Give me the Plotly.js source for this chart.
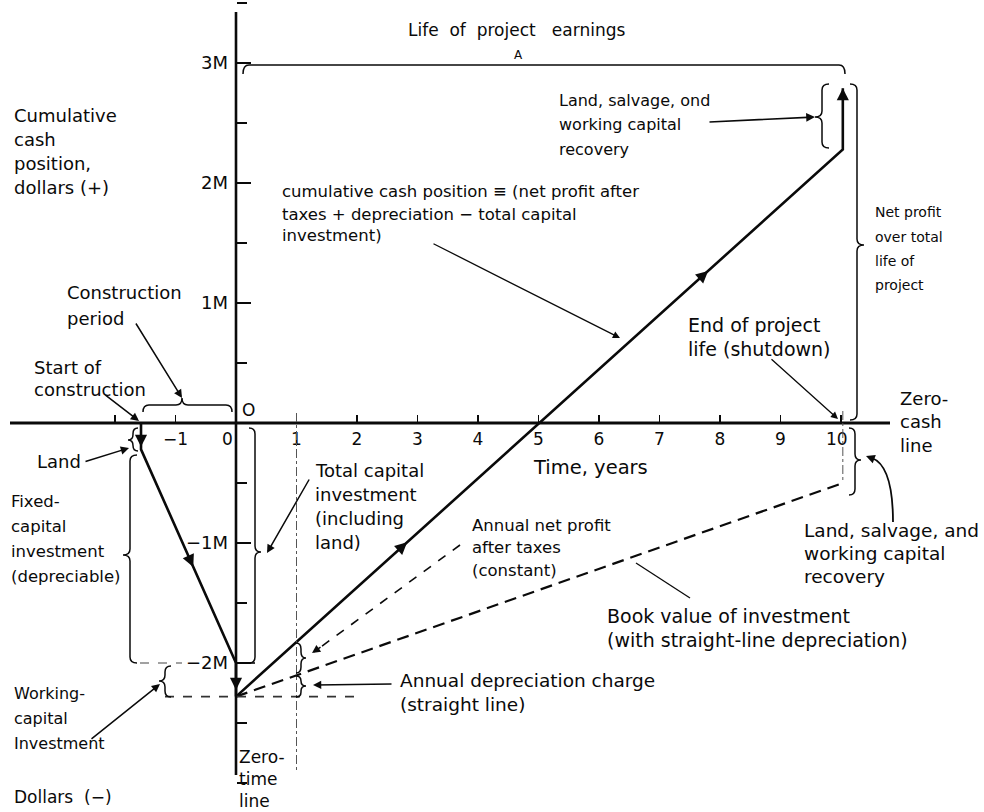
<!DOCTYPE html>
<html>
<head>
<meta charset="utf-8">
<script src="https://cdn.plot.ly/plotly-3.0.1.min.js"></script>
<style>html,body{margin:0;padding:0;background:#fff;}#chart{width:984px;height:812px;}</style>
</head>
<body>
<div id="chart"></div>
<script>
// ---------- data (years, millions of dollars) ----------
const tickYears = [-2, -1, 0, 1, 2, 3, 4, 5, 6, 7, 8, 9, 10];
const tickYearLabels = ['', '\u22121', '0\u2003', '1', '2', '3', '4', '5', '6', '7', '8', '9', '10\u2002'];
const tickDollars = [-2, -1, 1, 2, 3];
const tickDollarLabels = ['\u22122M', '\u22121M', '1M', '2M', '3M'];

// construction period: land, fixed capital, working capital
const constrYears = [-1.57, -1.57, 0, 0];
const constrCash = [0, -0.22, -2.0, -2.28];
// operating period: cumulative cash position, then land/salvage/working-capital recovery
const opYears = [0, 10.03, 10.03];
const opCash = [-2.28, 2.28, 2.79];
// book value of investment (straight-line depreciation)
const bookYears = [0, 10.03];
const bookCash = [-2.28, -0.5];

// ---------- geometry ----------
const W = 984, H = 812;
const X0PX = 236, PXYR = 60.5, Y0PX = 423, PXM = 120;
const shapes = [], annotations = [];
const INK = '#0a0a0a';

function P(x, y) { return (x / W).toFixed(5) + ',' + (1 - y / H).toFixed(5); }
function lineP(x0, y0, x1, y1, w, dash, color) {
  shapes.push({type: 'line', xref: 'paper', yref: 'paper', x0: x0 / W, y0: 1 - y0 / H, x1: x1 / W, y1: 1 - y1 / H,
    line: {color: color || INK, width: w || 1.5, dash: dash || 'solid'}});
}
function pathP(d, w, color) {
  shapes.push({type: 'path', xref: 'paper', yref: 'paper', path: d, line: {color: color || INK, width: w || 1.5}});
}
function vBrace(x, y1, y2, ym, dir, w) {
  w = w || 6; const r = Math.min(6, (ym - y1) / 2, (y2 - ym) / 2);
  pathP('M ' + P(x - dir * w, y1) + ' Q ' + P(x, y1) + ' ' + P(x, y1 + r) + ' L ' + P(x, ym - r) +
    ' Q ' + P(x, ym) + ' ' + P(x + dir * w, ym) + ' Q ' + P(x, ym) + ' ' + P(x, ym + r) +
    ' L ' + P(x, y2 - r) + ' Q ' + P(x, y2) + ' ' + P(x - dir * w, y2), 1.5);
}
function hBrace(y, x1, x2, xm, dir, w, tip) {
  w = w || 7; const r = 6; const t = (tip === undefined) ? w : tip;
  pathP('M ' + P(x1, y - dir * w) + ' Q ' + P(x1, y) + ' ' + P(x1 + r, y) + ' L ' + P(xm - r, y) +
    ' Q ' + P(xm, y) + ' ' + P(xm, y + dir * t) + ' Q ' + P(xm, y) + ' ' + P(xm + r, y) +
    ' L ' + P(x2 - r, y) + ' Q ' + P(x2, y) + ' ' + P(x2, y - dir * w), 1.5);
}
function arrowP(tx, ty, sx, sy, w) {
  annotations.push({xref: 'paper', yref: 'paper', x: tx / W, y: 1 - ty / H, ax: sx - tx, ay: sy - ty,
    axref: 'pixel', ayref: 'pixel', showarrow: true, arrowhead: 2, arrowsize: 1.1, arrowwidth: w || 1.5,
    arrowcolor: INK, standoff: 0, text: ''});
}
function lineArrow(xs, ys, i, t, len) {
  const x = xs[i] + t * (xs[i + 1] - xs[i]);
  const y = ys[i] + t * (ys[i + 1] - ys[i]);
  const dx = (xs[i + 1] - xs[i]) * PXYR, dy = -(ys[i + 1] - ys[i]) * PXM;
  const n = Math.hypot(dx, dy);
  annotations.push({xref: 'x', yref: 'y', x: x, y: y, ax: -dx / n * len, ay: -dy / n * len,
    axref: 'pixel', ayref: 'pixel', showarrow: true, arrowhead: 2, arrowsize: 1.1, arrowwidth: 2.2,
    arrowcolor: INK, standoff: 0, text: ''});
}
function txt(lines, x, y0, dy, size, anchor) {
  lines.forEach(function (s, i) {
    annotations.push({xref: 'paper', yref: 'paper', x: x / W, y: 1 - (y0 + i * dy) / H,
      xanchor: anchor || 'left', yanchor: 'middle', text: s, showarrow: false, font: {size: size}});
  });
}

// ---------- axes lines ----------
lineP(10, Y0PX, 890, Y0PX, 3);          // zero-cash line
lineP(X0PX, 12, X0PX, 775, 2.6);        // zero-time line

// guide lines
shapes.push({type: 'line', xref: 'x', yref: 'y', x0: 1, x1: 1, y0: (Y0PX - 413) / PXM, y1: (Y0PX - 770) / PXM,
  line: {color: '#555', width: 1, dash: 'dashdot'}});
shapes.push({type: 'line', xref: 'x', yref: 'y', x0: bookYears[1], x1: bookYears[1], y0: 0.1, y1: bookCash[1],
  line: {color: '#555', width: 1, dash: 'dashdot'}});
shapes.push({type: 'line', xref: 'x', yref: 'y', x0: (165 - X0PX) / PXYR, x1: (357 - X0PX) / PXYR, y0: bookCash[0], y1: bookCash[0],
  line: {color: '#333', width: 1.6, dash: 'dash'}});
lineP(140, 663, 182, 663, 1.2, 'dash', '#444');
lineP(X0PX, 663, 255, 663, 1.6);

// braces
hBrace(405, 143, 232, 182, -1, 7);                 // construction period
vBrace(133, 428, 451, 440, -1, 5);                 // land
vBrace(130, 455, 663, 555, -1, 7);                 // fixed capital
vBrace(255, 428, 663, 552, 1, 6);                  // total capital investment
vBrace(165, 666, 697, 681, -1, 6);                 // working capital
vBrace(301, 643, 673, 658, 1, 5);                  // annual net profit
vBrace(301, 676, 697, 686, 1, 5);                  // annual depreciation
vBrace(822, 84, 148, 117, -1, 7);                  // land/salvage recovery (top)
vBrace(857, 84, 420, 245, 1, 7);                   // net profit over life
vBrace(855, 428, 495, 460, 1, 6);                  // land/salvage recovery (bottom)
hBrace(65, 243, 845, 518, -1, 9, 0);               // life of project earnings

// leader arrows
arrowP(182, 398, 135, 322);                        // construction period
arrowP(139, 421, 104, 394);                        // start of construction
arrowP(129, 448, 84, 462);                         // land
arrowP(160, 684, 90, 740);                         // working capital
arrowP(267, 553, 310, 478);                        // total capital investment
lineP(460, 545, 318, 649, 1.6, 'dash');            // annual net profit (dashed leader)
arrowP(312, 653, 322, 646);
arrowP(313, 685, 393, 684);                        // annual depreciation
lineP(690, 598, 636, 563, 1.3);                    // book value leader
arrowP(620, 338, 432, 243, 1.3);                   // cumulative cash position
arrowP(838, 419, 770, 358, 1.3);                   // end of project life
arrowP(815, 117, 708, 122, 1.6);                   // land/salvage (top)
pathP('M ' + P(893, 522) + ' Q ' + P(893, 466) + ' ' + P(872, 458), 1.8);
arrowP(866, 456, 874, 459, 1.6);                   // land/salvage (bottom)

// arrows along the cash path
lineArrow(constrYears, constrCash, 0, 0.9, 12);
lineArrow(constrYears, constrCash, 1, 0.55, 12);
lineArrow(constrYears, constrCash, 2, 0.8, 12);
lineArrow(opYears, opCash, 0, 0.282, 12);
lineArrow(opYears, opCash, 0, 0.778, 12);
lineArrow(opYears, opCash, 1, 1.0, 12);

// ---------- text ----------
txt(['Life  of  project   earnings'], 516, 30, 0, 17, 'center');
txt(['A'], 518, 55, 0, 12, 'center');
txt(['Cumulative', 'cash', 'position,', 'dollars (+)'], 12, 115, 24, 18);
txt(['Construction', 'period'], 65, 293, 25, 18);
txt(['Start of', 'construction'], 32, 367, 22, 18);
txt(['Land'], 35, 461, 0, 18);
txt(['Fixed-', 'capital', 'investment', '(depreciable)'], 9, 501, 25, 16.5);
txt(['Working-', 'capital', 'Investment'], 12, 693, 25, 16);
txt(['Dollars  (\u2212)'], 12, 797, 0, 17);
txt(['Zero-', 'time', 'line'], 237, 757, 22, 17);
txt(['O'], 240, 410, 0, 17);
txt(['Total capital', 'investment', '(including', 'land)'], 313, 470, 24, 18);
txt(['Annual net profit', 'after taxes', '(constant)'], 470, 525, 22.5, 16.5);
txt(['Annual depreciation charge', '(straight line)'], 398, 680, 24, 18.5);
txt(['Book value of investment', '(with straight-line depreciation)'], 605, 616, 24, 19);
txt(['Land, salvage, and', 'working capital', 'recovery'], 802, 530, 23, 18.5);
txt(['Zero-', 'cash', 'line'], 898, 398, 23.5, 18);
txt(['Time, years'], 531, 468, 0, 19.5);
txt(['End of project', 'life (shutdown)'], 686, 325, 24, 19);
txt(['Net profit', 'over total', 'life of', 'project'], 873, 212, 24.5, 14);
txt(['cumulative cash position \u2261 (net profit after', 'taxes + depreciation \u2212 total capital', 'investment)'], 280, 192, 22, 16.5);
txt(['Land, salvage, ond', 'working capital', 'recovery'], 557, 101, 24, 16);

// ---------- traces ----------
const traces = [
  {x: constrYears, y: constrCash, mode: 'lines', line: {color: INK, width: 2.6}, hoverinfo: 'skip'},
  {x: opYears, y: opCash, mode: 'lines', line: {color: INK, width: 2.6}, hoverinfo: 'skip'},
  {x: bookYears, y: bookCash, mode: 'lines', line: {color: INK, width: 2.2, dash: '12px,7px'}, hoverinfo: 'skip'}
];

const layout = {
  width: W, height: H, margin: {l: 0, r: 0, t: 0, b: 0},
  paper_bgcolor: '#fff', plot_bgcolor: '#fff', showlegend: false,
  font: {family: 'DejaVu Sans, sans-serif', size: 16, color: INK},
  xaxis: {range: [-X0PX / PXYR, (W - X0PX) / PXYR], anchor: 'free', position: (H - Y0PX) / H,
    showgrid: false, zeroline: false, showline: false, tickmode: 'array', tickvals: tickYears, ticktext: tickYearLabels,
    ticks: 'inside', ticklen: 8, tickwidth: 1.4, tickcolor: INK, tickfont: {size: 17, color: INK},
    ticklabelstandoff: 4, fixedrange: true},
  yaxis: {range: [-(H - Y0PX) / PXM, Y0PX / PXM], anchor: 'free', position: X0PX / W,
    showgrid: false, zeroline: false, showline: false, tickmode: 'array', tickvals: tickDollars, ticktext: tickDollarLabels,
    ticks: 'inside', ticklen: 14, tickwidth: 1.4, tickcolor: INK, tickfont: {size: 18, color: INK},
    ticklabelstandoff: 8,
    minor: {tickmode: 'linear', tick0: 0, dtick: 0.5, ticks: 'inside', ticklen: 10, tickwidth: 1.2, tickcolor: INK},
    fixedrange: true},
  shapes: shapes, annotations: annotations
};

Plotly.newPlot('chart', traces, layout, {displayModeBar: false, staticPlot: true});
</script>
</body>
</html>
